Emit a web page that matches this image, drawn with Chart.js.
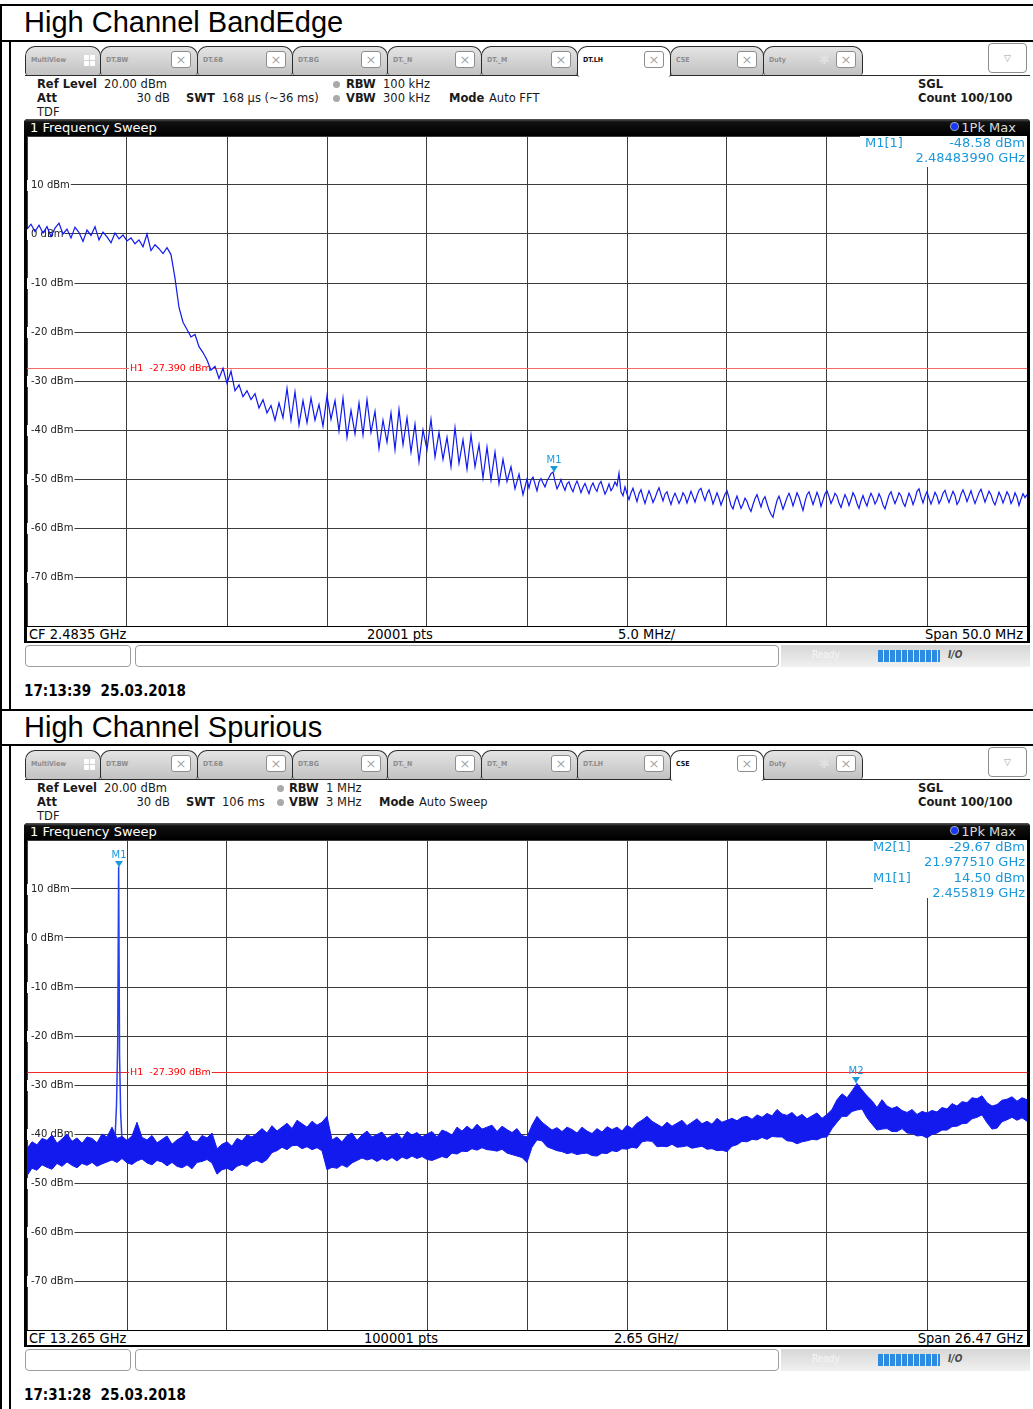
<!DOCTYPE html>
<html>
<head>
<meta charset="utf-8">
<script src="https://cdn.jsdelivr.net/npm/chart.js@4.4.1/dist/chart.umd.min.js"></script>
<style>
body { margin: 0; background: #fff; font-family: "DejaVu Sans", sans-serif; }
#page { position: relative; width: 1033px; height: 1409px; overflow: hidden; background: #fff; }
.bar { position: absolute; background: #000; }
.title { position: absolute; left: 24px; font: 29px "Liberation Sans", Arial, sans-serif; color: #000; white-space: nowrap; }
.screen { position: absolute; left: 0; width: 1033px; height: 704px; }
.tab { position: absolute; top: 46px; height: 29px; box-sizing: border-box; border: 1px solid #2b2b2b; border-bottom: none;
       border-radius: 10px 10px 3px 3px; background: linear-gradient(#e4e4e4, #c2c2c2); }
.tab.on { background: #fff; height: 31px; z-index: 2; }
.tab .tl { position: absolute; left: 5px; top: 9px; font: bold 7px "DejaVu Sans Condensed", "DejaVu Sans", sans-serif; color: #8c8c8c; }
.tab.on .tl { color: #111; }
.tab .cx { position: absolute; right: 6px; top: 4px; width: 20px; height: 17px; box-sizing: border-box; background: #fff;
           border: 1px solid #8d8d8d; border-radius: 3px; font: 13px/15px "DejaVu Sans", sans-serif; color: #a8a8a8; text-align: center; }
.tab .g4 { position: absolute; left: 58px; top: 8px; width: 12px; height: 12px; }
.tab .g4 i { position: absolute; width: 5px; height: 5px; background: #fff; border-radius: 1px; }
.tab .gear { position: absolute; left: 55px; top: 5px; font: 13px "DejaVu Sans", sans-serif; color: #e2e2e2; }
.tabline { position: absolute; left: 25px; top: 75px; width: 1005px; height: 1px; background: #2b2b2b; }
.drop { position: absolute; left: 988px; top: 43px; width: 39px; height: 30px; box-sizing: border-box; border: 1px solid #8d8d8d;
        border-radius: 4px; background: #fff; font: 9px/28px "DejaVu Sans", sans-serif; color: #9a9a9a; text-align: center; }
.hd { position: absolute; font: 11.5px/13px "DejaVu Sans", sans-serif; color: #1a1a1a; white-space: nowrap; }
.hd.b { font-weight: bold; }
.dot { position: absolute; width: 7px; height: 7px; border-radius: 50%; background: #a9a9a9; }
.frame { position: absolute; left: 24px; top: 119px; width: 1006px; height: 524px; background: #000; border-radius: 4px 4px 0 0; }
.fhead { position: absolute; left: 0; top: 0; width: 1006px; height: 16px; border-radius: 4px 4px 0 0;
         background: linear-gradient(#5a5a5a 0, #111 3px, #000 100%); }
.fhead .t { position: absolute; left: 6px; top: 1px; font: 13px/15px "DejaVu Sans", sans-serif; color: #fff; }
.fhead .pk { position: absolute; right: 14px; top: 1px; font: 13px/15px "DejaVu Sans", sans-serif; color: #d8d8d8; }
.fhead .pd { position: absolute; left: 927px; top: 4px; width: 7px; height: 7px; border-radius: 50%; background: #1836ff; box-shadow: 0 0 0 1px #9ab; }
canvas.plot { position: absolute; left: 27px; top: 136px; background: #fff; }
.foot { position: absolute; left: 27px; top: 627px; width: 1000px; height: 14px; background: #fff; }
.foot span { position: absolute; top: 0; font: 14.5px/14px "DejaVu Sans Condensed", "DejaVu Sans", sans-serif; color: #000; white-space: nowrap; }
.sbox { position: absolute; top: 645px; height: 22px; box-sizing: border-box; background: #fff; border: 1px solid #9d9d9d; border-radius: 4px; }
.sright { position: absolute; left: 781px; top: 645px; width: 249px; height: 22px; background: linear-gradient(#d6d6d6, #f1f1f1); }
.sright .rd { position: absolute; left: 31px; top: 4px; font: 10px "DejaVu Sans Condensed", sans-serif; color: #f6f6f6; }
.sright .pb { position: absolute; left: 97px; top: 5px; width: 62px; height: 12px;
              background: repeating-linear-gradient(90deg, #2e8be2 0 5px, #d2e7fb 5px 6px); }
.sright .io { position: absolute; left: 167px; top: 4px; font: italic bold 10px "DejaVu Sans Condensed", sans-serif; color: #4a4a4a; }
.stamp { position: absolute; left: 24px; top: 682px; font: bold 15px "DejaVu Sans Condensed", "DejaVu Sans", sans-serif; color: #000; }
</style>
</head>
<body>
<div id="page"></div>
<script>
// ---- sweep data -----------------------------------------------------------

// BandEdge sweep, slope part: 2.4585 .. 2.4835 GHz, one reading every 0.2 MHz (dBm)
const edgeStartGHz = 2.4585;
const edgeStepGHz = 0.0002;
const edgeSlopeLevels = [
    1.0, 2.0, 0.5, 1.8, 0.2, 1.5, -0.5, 1.2, 2.2, 0.0,
    1.0, -0.8, 1.4, 0.3, -1.5, 0.8, -0.3, 1.5, -1.2, 0.4,
    -0.6, -1.8, 0.2, -1.0, -0.2, -1.4, -0.8, -2.0, -1.2, -2.6,
    0.0, -3.4, -2.2, -3.0, -4.0, -2.8, -4.2, -9.0, -15.0, -18.0,
    -19.5, -21.0, -20.5, -23.0, -24.2, -25.7, -27.8, -27.0, -29.5, -27.4,
    -30.5, -28.0, -32.0, -30.8, -33.2, -32.0, -33.8, -32.6, -35.5, -33.8,
    -36.5, -35.0, -38.0, -34.5, -37.5, -31.5, -38.0, -32.2, -39.0, -34.0,
    -38.5, -33.5, -38.0, -34.8, -39.2, -33.0, -37.8, -34.0, -40.2, -33.5,
    -41.5, -36.0, -40.8, -34.5, -41.0, -33.8, -40.5, -36.2, -43.8, -38.0,
    -42.5, -36.5, -44.0, -35.8, -43.0, -37.5, -44.5, -38.8, -46.5, -40.0,
    -44.0, -37.8, -45.5, -40.5, -46.0, -41.5, -47.5, -39.5, -46.8, -42.0,
    -48.0, -41.0, -47.5, -43.0, -49.8, -43.5, -50.2, -44.5, -51.0, -46.0,
    -50.5, -47.5, -52.0, -49.0, -53.2, -50.0
];

// BandEdge sweep, noise floor: 2.4836 .. 2.5085 GHz, one reading every 0.1 MHz (dBm)
const edgeFloorStartGHz = 2.4835;
const edgeFloorStepGHz = 0.0001;
const edgeFloorLevels = [
    -51.8, -50.2, -49.6, -51.0, -52.4, -50.6, -49.9, -50.8, -51.6, -50.4,
    -49.7, -48.9, -48.6, -50.5, -52.0, -51.2, -50.1, -51.4, -52.3, -51.0,
    -50.6, -51.8, -52.6, -51.3, -50.4, -51.5, -52.8, -51.7, -50.9, -52.0,
    -53.0, -51.6, -50.8, -51.9, -52.5, -51.1, -50.5, -51.8, -53.1, -52.2,
    -51.0, -52.4, -51.7, -50.6, -51.4, -48.8, -52.6, -53.4, -51.6, -53.0,
    -54.2, -52.8, -51.9, -53.3, -54.6, -53.0, -52.2, -53.7, -55.0, -53.6,
    -52.4, -53.5, -54.8, -53.9, -52.7, -51.8, -53.2, -54.5, -53.1, -52.6,
    -54.0, -55.2, -53.8, -52.9, -53.9, -55.0, -54.1, -52.8, -53.5, -54.9,
    -53.7, -52.5, -53.6, -54.7, -53.4, -52.3, -51.9, -53.3, -54.4, -53.0,
    -52.2, -53.5, -55.1, -54.0, -52.8, -53.9, -55.3, -54.2, -53.1, -52.4,
    -53.8, -55.4, -56.1, -54.6, -53.5, -54.8, -56.0, -55.1, -53.9, -54.6,
    -55.8, -56.6, -55.2, -54.0, -53.2, -54.5, -55.7, -54.3, -53.6, -55.0,
    -56.3, -57.2, -57.8, -56.0, -54.4, -53.5, -54.8, -56.2, -55.0, -53.8,
    -52.9, -54.0, -55.5, -54.2, -52.8, -53.7, -55.1, -56.4, -54.6, -53.2,
    -52.6, -53.9, -55.2, -54.0, -52.7, -53.8, -55.6, -54.3, -53.0, -52.4,
    -53.6, -55.0, -54.1, -52.9, -53.5, -54.9, -55.8, -54.4, -53.2, -54.1,
    -55.4, -54.2, -52.8, -53.6, -55.0, -56.0, -54.5, -53.4, -54.6, -55.5,
    -54.0, -52.9, -53.8, -55.1, -54.3, -53.0, -53.9, -55.3, -56.1, -54.7,
    -53.3, -52.6, -53.9, -55.0, -54.0, -52.8, -53.4, -54.8, -55.6, -54.2,
    -52.9, -53.8, -55.2, -54.1, -52.5, -52.0, -53.6, -54.9, -53.5, -52.6,
    -53.9, -55.1, -54.0, -52.7, -53.5, -55.0, -54.2, -52.9, -52.3, -53.7,
    -54.8, -53.6, -52.5, -53.4, -55.2, -54.5, -53.1, -52.2, -53.3, -54.6,
    -53.5, -52.4, -53.8, -55.0, -53.9, -52.8, -52.1, -53.4, -54.7, -53.6,
    -52.5, -53.2, -54.5, -55.3, -54.0, -52.7, -53.6, -54.9, -53.8, -52.6,
    -53.4, -55.0, -54.2, -52.8, -53.7, -55.4, -54.1, -53.0, -53.8, -53.2
];

// Spurious sweep, 0.03 .. 26.5 GHz, peak hold band (max / min) every 0.13235 GHz
const spurStartGHz = 0.03;
const spurStepGHz = 0.13235;
const spurUpper = [
    -43.0, -41.6, -42.2, -40.9, -41.3, -40.2, -41.9, -41.0, -40.0, -41.5,
    -40.8, -41.9, -40.6, -40.9, -41.8, -40.0, -40.6, -38.6, -40.9, -40.5,
    -41.3, -40.4, -37.6, -40.7, -41.2, -40.3, -41.8, -41.1, -40.4, -42.1,
    -41.2, -40.6, -39.4, -41.3, -41.6, -40.3, -40.8, -39.8, -43.0, -42.1,
    -41.6, -42.5, -40.9, -41.4, -40.2, -40.6, -39.8, -38.9, -39.8, -38.3,
    -39.4, -38.6, -37.8, -38.9, -37.2, -37.9, -38.6, -37.4, -38.2, -37.6,
    -36.4, -41.2, -40.6, -41.6, -40.3, -39.8, -41.3, -40.2, -39.4, -40.6,
    -40.1, -39.6, -40.9, -40.3, -39.8, -41.0, -39.5, -40.2, -39.7, -40.6,
    -40.0, -39.5, -40.6, -39.2, -39.6, -40.2, -38.6, -39.4, -38.4, -39.2,
    -38.0, -39.0, -38.6, -38.2, -39.5, -38.4, -39.1, -39.7, -38.9, -40.3,
    -40.6, -38.2, -36.4, -37.6, -38.4, -39.2, -38.7, -39.5, -38.6, -39.1,
    -39.8, -38.6, -39.4, -39.9, -38.9, -39.6, -38.5, -39.1, -38.6, -39.4,
    -38.2, -38.9, -37.8, -37.2, -36.4, -37.4, -38.0, -38.6, -37.6, -38.4,
    -37.8, -37.2, -38.3, -37.6, -36.9, -37.9, -37.4, -38.0, -36.8, -37.6,
    -37.2, -36.8, -37.3, -36.6, -36.4, -37.0, -36.1, -36.6, -35.8, -36.3,
    -35.0, -35.9, -36.2, -35.6, -36.6, -36.0, -36.9, -36.3, -35.7, -36.8,
    -36.0, -35.0, -33.0, -31.8, -32.6, -31.2, -29.67, -31.0, -32.2, -33.2,
    -34.6, -33.0, -34.3, -34.8, -34.4, -35.2, -35.6, -35.0, -36.0, -35.4,
    -35.7, -35.2, -35.5, -34.6, -34.9, -33.8, -34.3, -33.4, -33.6, -32.6,
    -32.8, -32.2, -33.6, -34.3, -34.0, -33.1, -32.9, -32.4, -33.3, -32.6, -33.0
];
const spurLower = [
    -48.5, -47.0, -47.4, -46.3, -46.8, -47.2, -46.0, -46.6, -45.7, -46.4,
    -46.9, -46.0, -46.4, -45.8, -46.6, -46.1, -45.7, -45.3, -45.8, -45.0,
    -45.9, -46.2, -45.5, -45.1, -45.9, -46.3, -45.4, -45.7, -46.5, -45.8,
    -46.6, -46.9, -46.3, -47.1, -45.8, -45.6, -45.2, -45.9, -48.2, -47.3,
    -47.0, -47.5, -46.6, -46.2, -46.6, -45.7, -45.4, -45.9, -45.2, -43.8,
    -43.4, -42.7, -43.2, -42.4, -42.3, -43.0, -42.6, -43.2, -42.8, -43.4,
    -47.3, -46.8, -47.0, -46.3, -46.8, -45.9, -45.4, -44.9, -45.3, -45.0,
    -45.6, -45.0, -45.4, -44.8, -45.5, -44.7, -45.1, -44.5, -45.0, -44.6,
    -45.2, -45.4, -45.0, -44.6, -44.9, -43.9, -44.1, -43.5, -43.6, -43.0,
    -43.3, -42.8, -43.2, -43.3, -43.5, -43.1, -43.9, -44.2, -44.5, -44.8,
    -45.8, -42.7, -41.2, -41.4, -42.6, -43.0, -43.4, -43.6, -44.0, -43.8,
    -44.2, -44.0, -43.9, -44.4, -44.5, -43.9, -44.0, -43.4, -43.6, -43.0,
    -43.1, -42.7, -42.9, -41.6, -41.4, -41.5, -42.6, -42.5, -42.6, -42.1,
    -42.7, -42.6, -42.4, -42.9, -42.7, -42.5, -43.1, -43.0, -43.4, -43.3,
    -43.6, -42.5, -42.2, -41.5, -41.6, -41.1, -41.2, -40.7, -41.1, -40.5,
    -40.6, -40.6, -41.4, -41.5, -42.0, -41.6, -41.4, -41.1, -41.2, -40.7,
    -40.6, -38.9, -37.6, -36.4, -36.4, -35.4, -35.1, -34.9, -36.7, -38.0,
    -39.2, -39.0, -38.9, -39.5, -39.5, -38.9, -39.8, -39.9, -40.4, -40.3,
    -40.8, -40.1, -39.8, -39.2, -39.2, -38.5, -38.4, -37.9, -37.8, -36.9,
    -36.6, -36.1, -37.7, -39.0, -38.8, -37.5, -37.1, -36.6, -37.2, -36.7, -37.4
];

// carrier line in the spurious sweep
const carrierFreqs = [2.36, 2.40, 2.43, 2.455819, 2.48, 2.51, 2.55];
const carrierLevels = [-41.0, -34.0, -22.0, 14.50, -24.0, -36.0, -42.0];

// level grid labels and the H1 limit
const levelTicks = [10, 0, -10, -20, -30, -40, -50, -60, -70];
const limitH1 = -27.39;

// marker readouts
const edgeMarkerNames = ['M1'];
const edgeMarkerFreqs = [2.4848399];
const edgeMarkerLevels = [-48.58];
const spurMarkerNames = ['M2', 'M1'];
const spurMarkerFreqs = [21.97751, 2.455819];
const spurMarkerLevels = [-29.67, 14.50];

// ---- page chrome ----------------------------------------------------------

const tabNames = ['MultiView', 'DT.BW', 'DT.6B', 'DT.BG', 'DT._N', 'DT._M', 'DT.LH', 'CSE', 'Duty'];
const tabEdges = [25, 100, 197, 292, 387, 481, 577, 670, 763, 862];

const page = document.getElementById('page');

function addBar(l, t, w, h) {
    const d = document.createElement('div');
    d.className = 'bar';
    d.style.cssText = `left:${l}px;top:${t}px;width:${w}px;height:${h}px`;
    page.appendChild(d);
}

// outer table lines
addBar(0, 4, 1033, 2);
addBar(0, 4, 2, 1405);
addBar(0, 40, 1033, 2);
addBar(9, 40, 2, 670);
addBar(0, 709, 1033, 2);
addBar(0, 744, 1033, 2);
addBar(9, 744, 2, 665);

function screenHtml(s) {
    let h = `<div class="title" style="top:${s.titleTop}px">${s.title}</div>`;
    h += `<div class="screen" style="top:${s.top}px">`;
    tabNames.forEach((name, i) => {
        const l = tabEdges[i];
        const w = tabEdges[i + 1] - l + 1;
        h += `<div class="tab${i === s.activeTab ? ' on' : ''}" style="left:${l}px;width:${w}px">`;
        h += `<span class="tl">${name}</span>`;
        if (i === 0) {
            h += '<span class="g4"><i style="left:0;top:0"></i><i style="left:6px;top:0"></i>' +
                 '<i style="left:0;top:6px"></i><i style="left:6px;top:6px"></i></span>';
        } else {
            if (name === 'Duty') h += '<span class="gear">✱</span>';
            h += '<span class="cx">×</span>';
        }
        h += '</div>';
    });
    h += '<div class="tabline"></div><div class="drop">▽</div>';

    // setting readout above the diagram
    const rows = [78, 92, 106];
    s.header.forEach(([text, x, row, bold, right]) => {
        const pos = right ? `right:${1033 - x}px` : `left:${x}px`;
        h += `<div class="hd${bold ? ' b' : ''}" style="${pos};top:${rows[row]}px">${text}</div>`;
    });
    h += `<div class="dot" style="left:${s.dotX}px;top:81px"></div><div class="dot" style="left:${s.dotX}px;top:95px"></div>`;

    h += '<div class="frame"><div class="fhead"><span class="t">1 Frequency Sweep</span>' +
         '<span class="pd"></span><span class="pk">1Pk Max</span></div></div>';
    h += `<canvas class="plot" id="${s.canvasId}" width="1000" height="490"></canvas>`;

    h += '<div class="foot">';
    s.footer.forEach(([text, x, right]) => {
        h += `<span style="${right ? 'right' : 'left'}:${x}px">${text}</span>`;
    });
    h += '</div>';

    h += '<div class="sbox" style="left:25px;width:106px"></div>';
    h += '<div class="sbox" style="left:135px;width:644px"></div>';
    h += '<div class="sright"><span class="rd">Ready</span><span class="pb"></span><span class="io">I/O</span></div>';
    h += `<div class="stamp">${s.stamp}</div>`;
    h += '</div>';
    return h;
}

page.insertAdjacentHTML('beforeend', screenHtml({
    title: 'High Channel BandEdge', titleTop: 6, top: 0, activeTab: 6, canvasId: 'edgeChart', dotX: 333,
    header: [
        ['Ref Level', 37, 0, 1], ['20.00 dBm', 104, 0, 0],
        ['Att', 37, 1, 1], ['30 dB', 170, 1, 0, 1], ['TDF', 37, 2, 0],
        ['SWT', 186, 1, 1], ['168 µs (~36 ms)', 222, 1, 0],
        ['RBW', 346, 0, 1], ['100 kHz', 383, 0, 0],
        ['VBW', 346, 1, 1], ['300 kHz', 383, 1, 0],
        ['Mode', 449, 1, 1], ['Auto FFT', 489, 1, 0],
        ['SGL', 918, 0, 1], ['Count 100/100', 918, 1, 1]
    ],
    footer: [['CF 2.4835 GHz', 2], ['20001 pts', 340], ['5.0 MHz/', 591], ['Span 50.0 MHz', 4, 1]],
    stamp: '17:13:39&nbsp; 25.03.2018'
}));

page.insertAdjacentHTML('beforeend', screenHtml({
    title: 'High Channel Spurious', titleTop: 711, top: 704, activeTab: 7, canvasId: 'spurChart', dotX: 277,
    header: [
        ['Ref Level', 37, 0, 1], ['20.00 dBm', 104, 0, 0],
        ['Att', 37, 1, 1], ['30 dB', 170, 1, 0, 1], ['TDF', 37, 2, 0],
        ['SWT', 186, 1, 1], ['106 ms', 222, 1, 0],
        ['RBW', 289, 0, 1], ['1 MHz', 326, 0, 0],
        ['VBW', 289, 1, 1], ['3 MHz', 326, 1, 0],
        ['Mode', 379, 1, 1], ['Auto Sweep', 419, 1, 0],
        ['SGL', 918, 0, 1], ['Count 100/100', 918, 1, 1]
    ],
    footer: [['CF 13.265 GHz', 2], ['100001 pts', 337], ['2.65 GHz/', 587], ['Span 26.47 GHz', 4, 1]],
    stamp: '17:31:28&nbsp; 25.03.2018'
}));

// ---- diagram overlay: level labels, H1 line, markers, marker table ----------

const spectrumOverlay = {
    id: 'spectrumOverlay',
    beforeDatasetsDraw(chart, args, opts) {
        const { ctx, chartArea: area, scales: { y } } = chart;
        ctx.save();
        ctx.font = '10px "DejaVu Sans"';
        ctx.textBaseline = 'middle';
        levelTicks.forEach(v => {
            const py = Math.round(y.getPixelForValue(v));
            const label = v + ' dBm';
            const w = ctx.measureText(label).width;
            ctx.fillStyle = '#fff';
            ctx.fillRect(area.left, py - 5, w + 5, 11);
            ctx.fillStyle = '#222';
            ctx.fillText(label, area.left + 4, py + 0.5);
        });

        const hy = Math.round(y.getPixelForValue(opts.limit)) + 0.5;
        ctx.strokeStyle = opts.limitColor;
        ctx.lineWidth = 1;
        ctx.beginPath();
        ctx.moveTo(area.left, hy);
        ctx.lineTo(area.right, hy);
        ctx.stroke();
        ctx.font = '9.5px "DejaVu Sans"';
        const h1 = 'H1  ' + opts.limit.toFixed(3) + ' dBm';
        const hw = ctx.measureText(h1).width;
        ctx.fillStyle = '#fff';
        ctx.fillRect(area.left + opts.limitLabelX - 1, hy - 5, hw + 2, 10);
        ctx.fillStyle = '#f00';
        ctx.fillText(h1, area.left + opts.limitLabelX, hy + 0.5);
        ctx.restore();
    },
    afterDatasetsDraw(chart, args, opts) {
        const { ctx, chartArea: area, scales: { x, y } } = chart;
        ctx.save();
        ctx.fillStyle = '#1b98dc';
        ctx.textAlign = 'center';
        ctx.textBaseline = 'middle';
        ctx.font = '10px "DejaVu Sans"';
        opts.names.forEach((name, i) => {
            const px = Math.round(x.getPixelForValue(opts.freqs[i]));
            const py = Math.round(y.getPixelForValue(opts.levels[i]));
            ctx.beginPath();
            ctx.moveTo(px - 4, py - 6);
            ctx.lineTo(px + 4, py - 6);
            ctx.lineTo(px, py);
            ctx.closePath();
            ctx.fill();
            ctx.fillRect(px - 0.5, py - 6, 1, 6);
            ctx.fillText(name, px, py - 12);
        });

        // marker table in the upper right corner
        ctx.fillStyle = '#fff';
        ctx.fillRect(area.left + opts.tableX, area.top, area.right - area.left - opts.tableX, opts.tableH);
        ctx.fillStyle = '#1b98dc';
        ctx.font = '13px "DejaVu Sans"';
        opts.names.forEach((name, i) => {
            const ty = area.top + 8 + i * 31;
            ctx.textAlign = 'left';
            ctx.fillText(name + '[1]', area.left + opts.nameX, ty);
            ctx.textAlign = 'right';
            ctx.fillText(opts.levels[i].toFixed(2) + ' dBm', area.right - 2, ty);
            ctx.fillText(opts.freqs[i].toFixed(opts.freqDigits) + ' GHz', area.right - 2, ty + 15);
        });
        ctx.restore();
    }
};

function gridScale(min, max, step) {
    return {
        type: 'linear', min: min, max: max,
        ticks: { display: false, stepSize: step },
        grid: { color: '#3c3c3c', lineWidth: 1, drawTicks: false },
        border: { display: false }
    };
}

const baseOptions = {
    responsive: false,
    animation: false,
    events: [],
    layout: { padding: 0, autoPadding: false },
    elements: { point: { radius: 0 }, line: { tension: 0, borderWidth: 1 } }
};

// ---- BandEdge diagram -------------------------------------------------------

const edgeTrace = edgeSlopeLevels.map((v, i) => ({ x: edgeStartGHz + i * edgeStepGHz, y: v }))
    .concat(edgeFloorLevels.map((v, k) => ({ x: edgeFloorStartGHz + (k + 1) * edgeFloorStepGHz, y: v })));

new Chart(document.getElementById('edgeChart').getContext('2d'), {
    type: 'line',
    data: {
        datasets: [{
            label: '1Pk Max',
            data: edgeTrace,
            borderColor: 'rgb(16, 24, 236)',
            borderWidth: 1.2,
            fill: false
        }]
    },
    options: {
        ...baseOptions,
        plugins: {
            legend: { display: false },
            tooltip: { enabled: false },
            spectrumOverlay: {
                limit: limitH1, limitLabelX: 103, limitColor: '#f46a6a',
                names: edgeMarkerNames, freqs: edgeMarkerFreqs, levels: edgeMarkerLevels,
                freqDigits: 8, tableX: 833, tableH: 31, nameX: 838
            }
        },
        scales: {
            x: gridScale(2.4585, 2.5085, 0.005),
            y: gridScale(-80, 20, 10)
        }
    },
    plugins: [spectrumOverlay]
});

// ---- Spurious diagram -------------------------------------------------------

new Chart(document.getElementById('spurChart').getContext('2d'), {
    type: 'line',
    data: {
        datasets: [{
            label: 'min',
            data: spurLower.map((v, i) => ({ x: spurStartGHz + i * spurStepGHz, y: v })),
            borderColor: 'rgb(18, 26, 238)',
            borderWidth: 1,
            fill: false
        }, {
            label: '1Pk Max',
            data: spurUpper.map((v, i) => ({ x: spurStartGHz + i * spurStepGHz, y: v })),
            borderColor: 'rgb(18, 26, 238)',
            backgroundColor: 'rgb(18, 26, 238)',
            borderWidth: 1,
            fill: '-1'
        }, {
            label: 'carrier',
            data: carrierFreqs.map((f, i) => ({ x: f, y: carrierLevels[i] })),
            borderColor: 'rgb(40, 60, 240)',
            borderWidth: 1.5,
            fill: false
        }]
    },
    options: {
        ...baseOptions,
        plugins: {
            legend: { display: false },
            tooltip: { enabled: false },
            filler: { propagate: false },
            spectrumOverlay: {
                limit: limitH1, limitLabelX: 103, limitColor: '#f02a2a',
                names: spurMarkerNames, freqs: spurMarkerFreqs, levels: spurMarkerLevels,
                freqDigits: 6, tableX: 846, tableH: 58, nameX: 846
            }
        },
        scales: {
            x: gridScale(0.03, 26.5, 2.647),
            y: gridScale(-80, 20, 10)
        }
    },
    plugins: [spectrumOverlay]
});
</script>
</body>
</html>
